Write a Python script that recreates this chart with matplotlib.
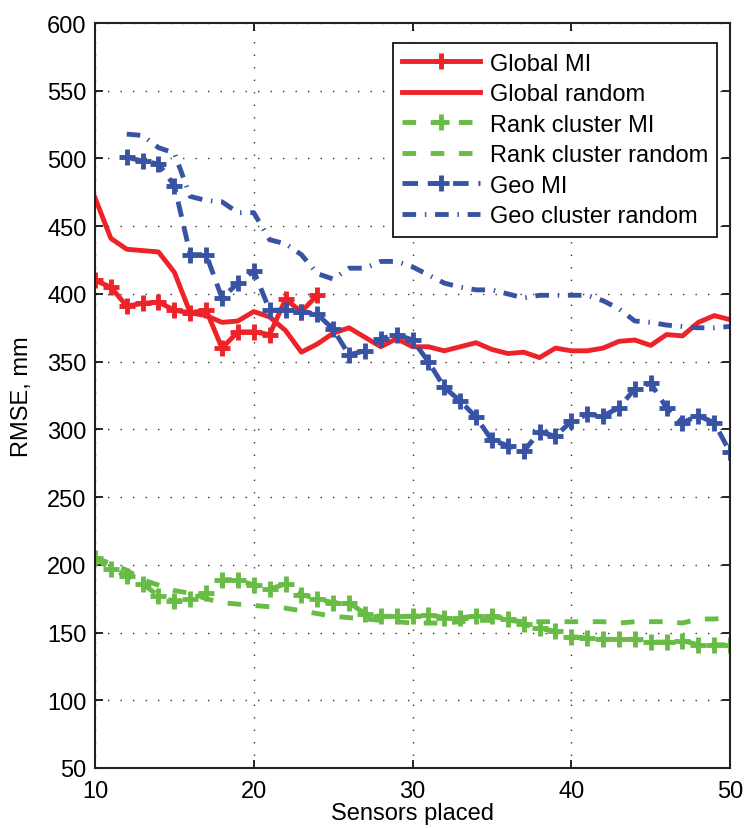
import matplotlib
matplotlib.use('Agg')
import matplotlib.pyplot as plt
import numpy as np

plt.rcParams.update({
    'font.family': ['Liberation Sans', 'DejaVu Sans'],
    'font.size': 17,
})

# RMSE per number of sensors placed
x_global_mi = np.arange(10, 25)
global_mi = [410, 405, 391, 393, 394, 388, 386, 388, 360, 372, 372, 370, 396, 387, 399]

x_full = np.arange(10, 51)
global_random = [471, 441, 433, 432, 431, 416, 386, 384, 379, 380, 387, 383, 373, 357, 363,
                 371, 375, 368, 361, 367, 361, 361, 358, 361, 364, 359, 356, 357, 353, 360,
                 358, 358, 360, 365, 366, 362, 370, 369, 379, 384, 381]

rank_mi = [205, 197, 192, 186, 177, 173, 175, 179, 189, 189, 185, 182, 186, 178, 175,
           172, 172, 164, 162, 162, 162, 163, 161, 161, 162, 162, 160, 156, 153, 151,
           147, 146, 145, 145, 145, 143, 143, 144, 141, 141, 141]
rank_random = [205, 201, 196, 189, 185, 181, 179, 175, 172, 171, 170, 169, 168, 166, 164,
               162, 161, 160, 159, 158, 157, 157, 157, 158, 159, 159, 159, 158, 158, 158,
               158, 158, 158, 157, 158, 158, 158, 157, 160, 160, 161]

x_geo = np.arange(12, 51)
geo_mi = [501, 498, 496, 480, 429, 429, 397, 408, 417, 388, 388, 387, 385, 374, 355,
          358, 367, 370, 366, 350, 331, 321, 309, 292, 288, 284, 298, 295, 306, 311,
          310, 316, 330, 334, 316, 305, 310, 305, 283]
geo_random = [518, 517, 508, 504, 472, 469, 468, 460, 460, 440, 437, 429, 415, 411, 419,
              419, 424, 424, 420, 414, 408, 405, 403, 403, 400, 397, 399, 399, 399, 399,
              395, 389, 380, 379, 377, 376, 375, 375, 376]

RED = '#EE2229'
GREEN = '#68BC45'
BLUE = '#3953A4'

fig = plt.figure(figsize=(7.45, 8.29), dpi=100)
ax = fig.add_axes([0.1275, 0.0724, 0.8525, 0.8986])

lw = 3.5
mk = dict(marker='+', ms=12, mew=3.5)
ax.plot(x_global_mi, global_mi, '-', color=RED, lw=lw, label='Global MI', **mk)
ax.plot(x_full, global_random, '-', color=RED, lw=lw, label='Global random')
ax.plot(x_full, rank_mi, '--', color=GREEN, lw=lw, dashes=(2.8, 3.0),
        label='Rank cluster MI', **mk)
ax.plot(x_full, rank_random, '--', color=GREEN, lw=lw, dashes=(2.8, 3.0),
        label='Rank cluster random')
ax.plot(x_geo, geo_mi, '--', color=BLUE, lw=lw, dashes=(3.2, 2.0),
        label='Geo MI', **mk)
ax.plot(x_geo, geo_random, '-.', color=BLUE, lw=lw, dashes=(2.8, 1.8, 0.3, 1.8),
        label='Geo cluster random')

ax.set_xlim(10, 50)
ax.set_ylim(50, 600)
ax.set_xticks(np.arange(10, 51, 10))
ax.set_yticks(np.arange(50, 601, 50))
ax.grid(True, linestyle=(0, (1, 8)), color='#333333', linewidth=1.0)
ax.tick_params(direction='in', top=True, right=True, length=6, width=1.2, labelsize=17)
ax.tick_params(axis='x', pad=9)
ax.tick_params(axis='y', pad=6)
for s in ax.spines.values():
    s.set_linewidth(1.5)
    s.set_color('#222222')

ax.set_xlabel('Sensors placed', fontsize=17, labelpad=0)
ax.set_ylabel('RMSE, mm', fontsize=17, labelpad=10)

leg = ax.legend(loc='upper right', bbox_to_anchor=(0.98, 0.973), fontsize=17,
                handlelength=3.3, fancybox=False, framealpha=1, edgecolor='black',
                borderpad=0.4, labelspacing=0.36, handletextpad=0.4,
                borderaxespad=0.0)
leg.get_frame().set_linewidth(1.2)

fig.savefig('out.png', dpi=100)
